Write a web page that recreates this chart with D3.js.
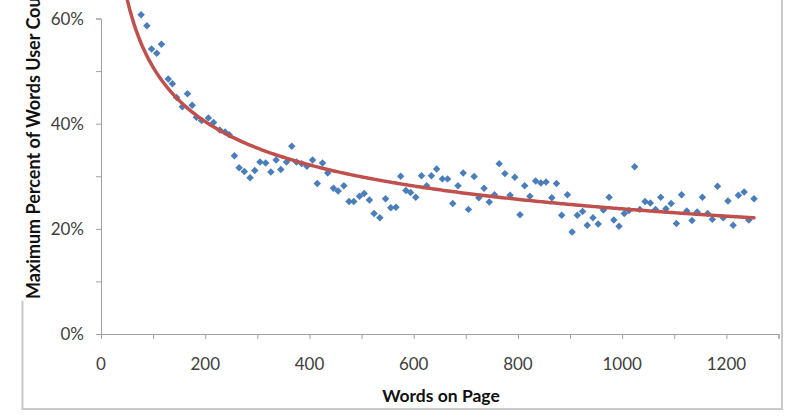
<!DOCTYPE html>
<html><head><meta charset="utf-8">
<script src="https://cdn.jsdelivr.net/npm/d3@7"></script>
<style>body{margin:0;background:#fff}svg{display:block}</style>
</head><body>
<script>
// Words on page (x) and max percent of words read (y)
const words = [47,57,67,77,88,97,107,116,129,137,145,156,166,175,183,193,206,216,228,238,246,256,265,275,286,295,305,316,326,336,345,356,366,375,385,395,406,415,425,435,446,455,466,476,485,496,505,515,524,535,546,556,566,575,585,594,604,615,625,634,644,655,665,675,685,695,705,716,725,735,745,755,764,775,785,794,804,813,823,834,844,854,865,874,884,895,904,914,924,933,944,954,964,975,984,994,1004,1013,1024,1034,1044,1054,1064,1074,1084,1094,1104,1114,1124,1134,1144,1154,1164,1173,1183,1194,1203,1213,1223,1234,1243,1253];
const percent = [75,70,66,60.7,58.6,54.2,53.4,55.1,48.5,47.6,45.0,43.2,45.7,43.5,41.2,40.6,41.1,40.2,38.8,38.4,37.9,33.9,31.6,30.9,29.7,31.1,32.7,32.5,30.8,33.1,31.3,32.7,35.7,32.7,32.4,31.9,33.1,28.6,32.5,30.6,27.7,27.2,28.2,25.2,25.2,26.2,26.7,25.5,22.9,22.1,25.7,24.0,24.1,30.0,27.3,26.9,26.0,30.1,28.2,30.1,31.4,29.5,29.5,24.8,28.2,30.6,23.7,29.95,25.9,27.7,25.1,26.5,32.4,30.5,26.4,29.8,22.7,28.2,26.2,29.1,28.7,28.9,25.9,28.6,22.6,26.5,19.4,22.6,23.3,20.7,22.1,20.9,23.6,26.0,21.7,20.5,22.9,23.5,31.8,23.7,25.2,24.9,23.7,26.0,23.8,24.8,21.0,26.5,23.4,21.6,23.2,26.0,22.9,21.8,28.1,22.1,25.3,20.7,26.4,27.0,21.7,25.7];
const xTicks = [0,100,200,300,400,500,600,700,800,900,1000,1100,1200,1300];
const xLabels = [0,200,400,600,800,1000,1200];
const yTicks = [0,10,20,30,40,50,60,70,80];
const yLabels = [0,20,40,60];
const xTitle = "Words on Page";
const yTitle = "Maximum Percent of Words User Could Read";

const W = 800, H = 419;
const svg = d3.select("body").append("svg").attr("width", W).attr("height", H);
const x = d3.scaleLinear().domain([0,1300]).range([101, 778.5]);
const y = d3.scaleLinear().domain([0,60]).range([334, 18.5]);

// chart border
svg.append("rect").attr("x",22.5).attr("y",-20).attr("width",759.5).attr("height",429)
  .attr("fill","none").attr("stroke","#c9c9c9").attr("stroke-width",2);

const font = "Lato, 'Open Sans', sans-serif";

// x axis
const xAxis = svg.append("g").attr("transform","translate(0,334)")
  .call(d3.axisBottom(x).tickValues(xTicks).tickSize(5).tickFormat(""));
xAxis.select(".domain").attr("stroke","#a0a0a0");
xAxis.selectAll(".tick line").attr("stroke","#a0a0a0");
svg.append("g").selectAll("text").data(xLabels).join("text")
  .attr("x", d => x(d)).attr("y", 370).attr("text-anchor","middle")
  .attr("font-family", font).attr("font-size", 17).attr("fill","#404040").text(d => d);

// y axis
const yAxis = svg.append("g").attr("transform","translate(101,0)")
  .call(d3.axisLeft(y).tickValues(yTicks).tickSize(5).tickFormat(""));
yAxis.select(".domain").attr("stroke","#a0a0a0");
yAxis.selectAll(".tick line").attr("stroke","#a0a0a0");
svg.append("g").selectAll("text").data(yLabels).join("text")
  .attr("x", 84).attr("y", d => y(d)).attr("dy","0.36em").attr("text-anchor","end")
  .attr("font-family", font).attr("font-size", 17).attr("fill","#404040").text(d => d + "%");

// points
svg.append("g").selectAll("path").data(words.map((w,i)=>[w,percent[i]])).join("path")
  .attr("d", d3.symbol(d3.symbolSquare, 28))
  .attr("transform", d => `translate(${x(d[0])},${y(d[1])}) rotate(45)`)
  .attr("fill","#4a7ebb");

// power trendline fitted from the data (least squares on log-log)
const lx = words.map(Math.log), ly = percent.map(Math.log);
const mx = d3.mean(lx), my = d3.mean(ly);
const b = d3.sum(lx.map((v,i)=>(v-mx)*(ly[i]-my))) / d3.sum(lx.map(v=>(v-mx)*(v-mx)));
const a = Math.exp(my - b*mx);
const xs = d3.range(0, 301).map(i => d3.min(words) + (d3.max(words)-d3.min(words))*i/300);
svg.append("path").datum(xs)
  .attr("d", d3.line().x(d => x(d)).y(d => y(a*Math.pow(d,b))).curve(d3.curveLinear))
  .attr("fill","none").attr("stroke","#c0504d").attr("stroke-width",3.5).attr("stroke-linecap","round");

// titles
svg.append("rect").attr("x",16).attr("y",-10).attr("width",30).attr("height",311).attr("fill","#fff");
svg.append("text").attr("transform","translate(40,299) rotate(-90)")
  .attr("font-family", font).attr("font-weight","bold").attr("font-size",18).attr("fill","#111")
  .text(yTitle);
svg.append("text").attr("x",441).attr("y",402).attr("text-anchor","middle")
  .attr("font-family", font).attr("font-weight","bold").attr("font-size",17.5).attr("fill","#111")
  .text(xTitle);
</script>
</body></html>
